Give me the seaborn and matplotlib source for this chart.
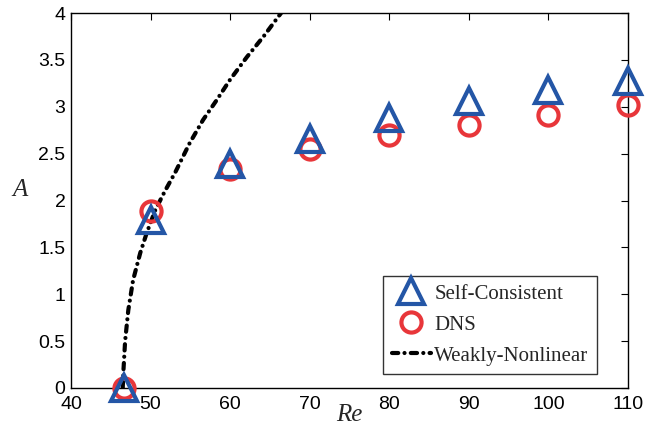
import matplotlib
matplotlib.use("Agg")
import matplotlib.pyplot as plt
import seaborn as sns
import pandas as pd

# ---- data ----
re_points = [46.7, 50, 60, 70, 80, 90, 100, 110]
a_self_consistent = [0.0, 1.79, 2.39, 2.66, 2.88, 3.06, 3.18, 3.28]
a_dns = [0.0, 1.89, 2.34, 2.55, 2.70, 2.81, 2.91, 3.02]

re_wnl = [46.5, 46.6, 46.8, 47.2, 47.8, 48.7, 49.5, 50.6, 51.8, 53.1, 54.9,
          56.6, 58.3, 60.0, 62.1, 64.2, 66.4]
a_wnl = [0.0, 0.2, 0.5, 0.83, 1.15, 1.44, 1.65, 1.90, 2.10, 2.30, 2.61,
         2.86, 3.07, 3.29, 3.53, 3.75, 4.0]

x_ticks = [40, 50, 60, 70, 80, 90, 100, 110]
y_ticks = [0, 0.5, 1, 1.5, 2, 2.5, 3, 3.5, 4]
y_tick_labels = ["0", "0.5", "1", "1.5", "2", "2.5", "3", "3.5", "4"]

labels = ["Self-Consistent", "DNS", "Weakly-Nonlinear"]

blue = "#2456a6"
red = "#e8363a"

sns.set_style("white")
plt.rcParams["font.family"] = ["Liberation Sans", "DejaVu Sans"]
serif = ["Liberation Serif", "DejaVu Serif"]

fig = plt.figure(figsize=(6.6, 4.3), dpi=100)
ax = fig.add_axes([71 / 660, 1 - 388 / 430, 557 / 660, 375 / 430])

df_sc = pd.DataFrame({"Re": re_points, "A": a_self_consistent})
df_dns = pd.DataFrame({"Re": re_points, "A": a_dns})
df_wnl = pd.DataFrame({"Re": re_wnl, "A": a_wnl})

sns.lineplot(data=df_wnl, x="Re", y="A", ax=ax, color="black",
             linewidth=3.0, dashes=False, label=labels[2], zorder=2,
             legend=False)
wnl_line = ax.lines[-1]
wnl_line.set_dashes((1.5, 1.5, 0.01, 1.5))
wnl_line.set_dash_capstyle("round")

sns.lineplot(data=df_dns, x="Re", y="A", ax=ax, color=red, linestyle="",
             marker="o", markersize=14.5, markerfacecolor="none",
             markeredgecolor=red, markeredgewidth=3.0, label=labels[1],
             zorder=3, legend=False)
dns_line = ax.lines[-1]

sns.lineplot(data=df_sc, x="Re", y="A", ax=ax, color=blue, linestyle="",
             marker="^", markersize=19, markerfacecolor="none",
             markeredgecolor=blue, markeredgewidth=3.0, label=labels[0],
             zorder=4, legend=False)
sc_line = ax.lines[-1]

for ln in (dns_line, sc_line):
    ln.set_clip_on(False)

ax.set_xlim(40, 110)
ax.set_ylim(0, 4)
ax.set_xticks(x_ticks)
ax.set_xticklabels([str(t) for t in x_ticks])
ax.set_yticks(y_ticks)
ax.set_yticklabels(y_tick_labels)
ax.tick_params(direction="in", length=5, width=0.8, top=True, right=True,
               labelsize=14, colors="black", pad=4)
ax.tick_params(axis="x", pad=6)
for sp in ax.spines.values():
    sp.set_color("black")
    sp.set_linewidth(1.0)

ax.set_xlabel("Re", fontsize=18, fontstyle="italic", family=serif)
ax.xaxis.set_label_coords(0.5, -0.072)
ax.xaxis.label.set_va("center")
ax.set_ylabel("A", fontsize=18, fontstyle="italic", rotation=0,
              family=serif)
ax.yaxis.set_label_coords(-0.092, 0.528)
ax.yaxis.label.set_va("center")
ax.yaxis.label.set_ha("center")

leg = ax.legend(handles=[sc_line, dns_line, wnl_line], labels=labels,
                loc="lower right", bbox_to_anchor=(0.944, 0.037),
                borderaxespad=0, frameon=True, fancybox=False,
                prop={"family": serif, "size": 15},
                handlelength=1.9, handletextpad=0.15, labelspacing=0.55,
                borderpad=0.4)
leg.get_frame().set_edgecolor("black")
leg.get_frame().set_linewidth(1.0)

fig.savefig("out.png", dpi=100)
